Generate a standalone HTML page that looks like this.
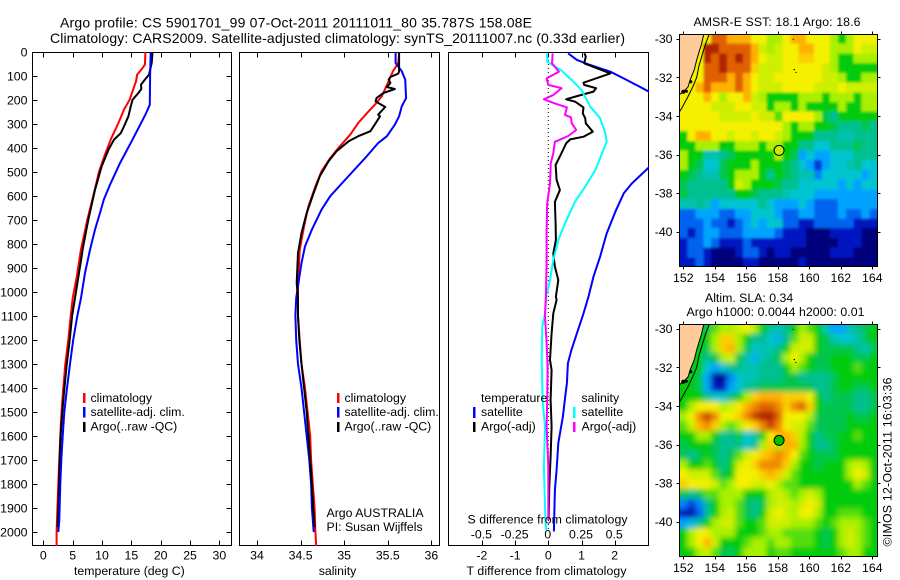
<!DOCTYPE html>
<html lang="en">
<head>
<meta charset="utf-8">
<title>Argo profile 5901701_99</title>
<style>
html,body{margin:0;padding:0;background:#fff;}
svg{display:block;}
text{font-family:"Liberation Sans",sans-serif;font-size:12.3px;fill:#000;}
</style>
</head>
<body>
<svg id="chart" xmlns="http://www.w3.org/2000/svg" width="900" height="580" viewBox="0 0 900 580">
  <defs>
    <clipPath id="clip-temp"><rect x="32" y="52" width="200" height="494"/></clipPath>
    <clipPath id="clip-sal"><rect x="239" y="52" width="201" height="494"/></clipPath>
    <clipPath id="clip-diff"><rect x="448" y="52" width="201" height="494"/></clipPath>
    <clipPath id="clip-sst"><rect x="679" y="34" width="199" height="233"/></clipPath>
    <clipPath id="clip-sla"><rect x="679" y="324" width="199" height="233"/></clipPath>
    <filter id="blur-sst" filterUnits="userSpaceOnUse" x="640" y="0" width="260" height="300"><feGaussianBlur stdDeviation="1.2"/></filter>
    <filter id="blur-sla" filterUnits="userSpaceOnUse" x="640" y="290" width="260" height="290"><feGaussianBlur stdDeviation="2.6"/></filter>
  </defs>
  <rect width="900" height="580" fill="#fff"/>

  <text x="60" y="27.5" textLength="472" lengthAdjust="spacing" style="font-size:14px">Argo profile: CS 5901701_99 07-Oct-2011 20111011_80 35.787S 158.08E</text>
  <text x="50" y="43" textLength="575" lengthAdjust="spacing" style="font-size:14px">Climatology: CARS2009. Satellite-adjusted climatology: synTS_20111007.nc (0.33d earlier)</text>

  <g id="layer-temp"></g>
  <g id="layer-sal"></g>
  <g id="layer-diff"></g>
  <g id="layer-sst"></g>
  <g id="layer-sla"></g>

  <!-- temperature legend -->
  <g>
    <rect x="83" y="393" width="2.5" height="10" fill="#f00"/>
    <text x="90.5" y="402">climatology</text>
    <rect x="83" y="407" width="2.5" height="10.5" fill="#00f"/>
    <text x="90.5" y="416">satellite-adj. clim.</text>
    <rect x="83" y="422" width="2.5" height="10" fill="#000"/>
    <text x="90.5" y="430.5">Argo(..raw -QC)</text>
  </g>
  <!-- salinity legend -->
  <g>
    <rect x="337" y="393" width="2.5" height="10" fill="#f00"/>
    <text x="344.5" y="402">climatology</text>
    <rect x="337" y="407" width="2.5" height="10.5" fill="#00f"/>
    <text x="344.5" y="416">satellite-adj. clim.</text>
    <rect x="337" y="422" width="2.5" height="10" fill="#000"/>
    <text x="344.5" y="430.5">Argo(..raw -QC)</text>
    <text x="326.5" y="517">Argo AUSTRALIA</text>
    <text x="326.5" y="531">PI: Susan Wijffels</text>
  </g>
  <!-- difference legend -->
  <g>
    <text x="481" y="402">temperature</text>
    <rect x="473" y="407" width="2.5" height="11" fill="#00f"/>
    <text x="481" y="416">satellite</text>
    <rect x="473" y="422" width="2.5" height="10" fill="#000"/>
    <text x="481" y="430.5">Argo(-adj)</text>
    <text x="581.5" y="402">salinity</text>
    <rect x="573" y="407" width="2.5" height="11" fill="#0ff"/>
    <text x="581.5" y="416">satellite</text>
    <rect x="573" y="422" width="2.5" height="10" fill="#f0f"/>
    <text x="581.5" y="430.5">Argo(-adj)</text>
  </g>

  <text x="74" y="575">temperature (deg C)</text>
  <text x="337.5" y="575" text-anchor="middle">salinity</text>
  <text x="466.5" y="575" textLength="160" lengthAdjust="spacing">T difference from climatology</text>
  <text x="467.5" y="523.5" textLength="160" lengthAdjust="spacing">S difference from climatology</text>

  <text x="693.5" y="26" textLength="167" lengthAdjust="spacing">AMSR-E SST: 18.1  Argo: 18.6</text>
  <text x="705" y="302">Altim. SLA: 0.34</text>
  <text x="686.5" y="316" textLength="178" lengthAdjust="spacing">Argo h1000: 0.0044 h2000: 0.01</text>
  <text transform="translate(891.5,546.5) rotate(-90)" textLength="169" lengthAdjust="spacing">©IMOS 12-Oct-2011 16:03:36</text>
</svg>

<script>
// ---- depth axis ----
const depthTicks = [0,100,200,300,400,500,600,700,800,900,1000,1100,1200,1300,1400,1500,1600,1700,1800,1900,2000];

// ---- temperature panel ----
const tempTicks = [0,5,10,15,20,25,30];
const tempClimDepths = [0,53,67,94,122,157,199,240,296,358,428,497,601,699,824,935,1025,1100,1200,1300,1400,1500,1600,1700,1800,1900,2000,2060];
const tempClimValues = [17.4,17.3,16.9,16.0,15.8,15.3,14.7,13.75,12.8,11.6,10.5,9.5,8.5,7.5,6.4,5.7,5.0,4.66,4.26,3.75,3.4,3.1,2.9,2.73,2.55,2.4,2.27,2.27];
const tempSatDepths = [0,100,220,261,289,372,463,553,615,671,740,824,921,1025,1100,1200,1300,1400,1500,1600,1700,1800,1900,1950,2000];
const tempSatValues = [18.3,18.2,18.15,17.4,16.8,15.05,13.07,11.36,10.3,9.66,8.8,7.95,7.1,6.42,5.8,5.1,4.55,4.03,3.58,3.3,3.07,2.9,2.78,2.73,2.55];
const tempArgoDepths = [0,46,94,115,136,154,171,199,226,268,310,338,365,407,476,574,699,810,921,1025,1100,1200,1300,1400,1500,1600,1700,1800,1900,1980];
const tempArgoValues = [18.6,18.47,18.0,17.3,16.65,16.7,16.2,15.2,14.9,14.5,13.75,13.2,12.05,11.1,9.95,8.8,7.67,6.8,6.08,5.4,4.9,4.5,4.0,3.6,3.24,2.95,2.78,2.67,2.55,2.44];

// ---- salinity panel ----
const salTicks = [34,34.5,35,35.5,36];
const salClimDepths = [0,46,80,129,185,212,247,296,344,393,442,497,560,643,726,824,976,1025,1100,1200,1300,1400,1500,1600,1700,1800,1900,2000,2060];
const salClimValues = [35.63,35.62,35.56,35.5,35.43,35.37,35.28,35.16,35.07,34.95,34.84,34.74,34.67,34.59,34.54,34.49,34.47,34.47,34.47,34.49,34.51,34.55,34.58,34.61,34.62,34.64,34.66,34.67,34.68];
const salSatDepths = [0,46,80,115,192,226,268,303,351,379,442,525,601,657,740,810,879,976,1025,1100,1200,1300,1400,1500,1600,1700,1800,1900,2000];
const salSatValues = [35.59,35.59,35.66,35.70,35.71,35.66,35.63,35.58,35.49,35.39,35.24,35.03,34.84,34.74,34.63,34.55,34.51,34.47,34.45,34.44,34.45,34.47,34.51,34.54,34.57,34.6,34.62,34.63,34.65];
const salArgoDepths = [0,80,90,104,115,129,146,154,171,192,206,229,261,268,303,330,351,372,414,456,518,587,671,754,838,963,1025,1100,1200,1300,1400,1500,1600,1700,1800,1900,1980];
const salArgoValues = [35.63,35.63,35.62,35.53,35.51,35.53,35.49,35.58,35.45,35.37,35.36,35.47,35.39,35.41,35.35,35.30,35.16,35.05,34.91,34.82,34.72,34.65,34.57,34.51,34.47,34.455,34.47,34.47,34.485,34.51,34.54,34.57,34.59,34.61,34.63,34.645,34.66];

// ---- difference panel ----
const tDiffTicks = [-2,-1,0,1,2];
const tDiffLabels = ['-2','-1','0','1','2'];
const sDiffTicks = [-0.5,-0.25,0,0.25,0.5];
const sDiffLabels = ['-0.5','-0.25','0','0.25','0.5'];
const zeroLineDepths = [0,2000];
const zeroLineValues = [0,0];
const tSatDepths = [6,33,54,82,117,165,220,300,400,481,547,589,665,756,853,936,1019,1033,1089,1172,1241,1297,1380,1436,1519,1630,1741,1825,1998];
const tSatValues = [0.6,0.86,1.26,1.87,2.37,3.03,4.1,3.7,3.2,3.03,2.52,2.27,2.02,1.76,1.56,1.36,1.21,1.18,1.06,0.86,0.7,0.59,0.56,0.51,0.44,0.3,0.25,0.2,0.17];
const tArgoDepths = [6,19,47,89,128,137,151,165,186,197,207,231,256,276,297,332,353,364,381,429,471,533,575,624,714,783,839,894,950,1019,1033,1089,1172,1283,1325,1450,1561,1686,1811,1950];
const tArgoValues = [1.09,1.13,1.08,1.87,1.06,1.08,1.44,1.36,0.81,0.535,0.81,1.06,1.04,1.11,1.13,1.34,1.06,0.66,0.535,0.37,0.22,0.25,0.35,0.2,0.22,0.23,0.15,0.2,0.3,0.23,0.25,0.15,0.1,0.05,0.1,0.07,0.1,0.07,0.03,0.01];
const sSatDepths = [6,40,78,117,158,228,276,339,374,429,492,561,624,714,783,867,950,1026,1089,1144,1283,1450,1561,1728,1894,1992];
const sSatValues = [-0.008,-0.008,0.1,0.177,0.25,0.316,0.39,0.43,0.44,0.40,0.354,0.278,0.2,0.126,0.076,0.038,0.013,-0.018,-0.025,-0.045,-0.05,-0.043,-0.025,-0.033,-0.025,-0.018];
const sArgoDepths = [6,47,82,110,137,151,179,197,214,231,262,272,297,325,350,374,422,464,547,631,742,881,1019,1103,1213,1311,1450,1561,1728,1950];
const sArgoValues = [0.033,0.028,0.08,-0.013,0,0.1,0.038,-0.033,0.05,0.14,0.126,0.17,0.177,0.21,0.15,0.05,0.038,0.018,0.013,-0.008,-0.013,-0.013,-0.018,-0.025,-0.013,-0.005,-0.008,-0.013,0,0];

// ---- maps ----
const lonTicks = [152,154,156,158,160,162,164];
const latTicks = [-30,-32,-34,-36,-38,-40];
const argoLon = 158.08;
const argoLat = -35.787;
const sstLevels = [
[8,8,8,8,10,10,9,9,9,8,8,7,7,8,9,9,8,8,8,7,6,7,8,8,8],
[8,8,8,11,11,10,10,10,10,9,7.5,7,7.5,8,8,9,9,8,8,7,7,7,8,7.5,7.5],
[8,8,8,11,10,11,10,11,10,9,8,7.5,7.5,8,8,8.5,8.5,8,8,7,6,6,7,7,7],
[8,8,8,10,10,11,10,10,10,8.5,7.5,7.5,7.5,8,8,8,8,8,7.5,7,6,6,6,6,6],
[8,8,8,10,10,10,9,10,9,8,7.5,7.5,8,8,8,8,8,8,7.5,7.5,7,6,6,7,7],
[8,8,9,10,9,9,9,10,9,8,7.5,7.5,7.5,8,8,8,8,7.5,7.5,7.5,8,7.5,7.5,7.5,7.5],
[8,8,8,9,8,7,8,8,9,7.5,7,6,6,6,6,7,7,7,6,7,7,7,6,7,7],
[8,8,8,8,7.5,7.5,7.5,8,8,7.5,7.5,6,7,7,6,7,6,6,6,6,7,6,6,7,7],
[8,8,8,8,8,7.5,7.5,7.5,7.5,8,7.5,7.5,6.5,8,8,8,8,7,5.5,5,6,6,6,6,6],
[8,8,8,8,8,8,8,8,8,8,8,8,8,7,6,7,7,6,6,5.5,5,5,5,5.5,5],
[6,8,9,9,8,8,7.5,8,8,7.5,8,8,7.5,7,6,6,6,5,5,5,4.5,4.5,5,5,5],
[6,6,7,7,7,6,6,7,7,7,6,7,7,6,6,5,5,4,4,5,5,5,5.5,5,5],
[7,6,6,4.5,4.5,5,5.5,6,6,6,6,6,7,6,5.5,3,4,3,3,4,4,4,5,5,5],
[7,6,5.5,4,4,5.5,6,6,6,7,6,6,6,5.5,5,4,3,1.5,3,4,4,4.5,5,4,4],
[6,5.5,5,4.5,4.5,5.5,6,7,7,7,6,5,6,5.5,5,4.5,4.5,2.5,4,4,4,4,4,3,4],
[5.5,5,5,5,5,5,6,7.5,7,6,6,6,5.5,5,5,4,4,4,4,4,3,4,3,4,4],
[5.5,5,5,5,5,5,5,6,6,5.5,5,5,5,4.5,4,4,4,3,3,3,3,3,3,3,3],
[4.5,4.5,5,4.5,3,4,4,4,4,4,5,4,3,3,3,4,3,2,2,2,3,3,3,3,3],
[2,2,3,3,3,2,2,3,3,4,4,4,3,2,2,3,3,2,2,2,3,2,2,3,2],
[2,2,2,3,2,2,1,2,3,4,3,4,4,2,2,1,1,2,2,2,2,2,1,1,1],
[2,1,2,3,3,2,2,2,3,3,3,3,2,1,1,1,0,0,0,1,1,1,1,0,0],
[1,2,2,3,2,1,1,1,2,1,1,1,1,1,1,1,0,0,0,0,1,1,1,0,0],
[1,2,2,1,0,0,0,1,2,2,1,0,1,1,0,0,0,0,0,1,1,1,0,0,0],
[1,1,2,1,0,0,0,0,1,1,0,0,0,0,0,1,0,0,0,0,0,0,0,0,0]
];
const slaLevels = [
[6,6,6,5.5,6.5,7,7,7.5,8,7,6,5,4.5,5,6,7,6.5,6,4.5,3,3,4.5,5,5.5,6],
[6,6,6,6,7,8.5,8.5,7,6,5,5,4,3.5,5,6.5,7.5,7.5,6,5.5,4.5,4,4,4.5,5.5,6],
[6,6,6,5.5,7,8.5,9,7,5.5,4,4.5,4.5,5,6,7.5,7.5,7.5,6,5.5,5.5,5.5,5.5,5,4.5,5.5],
[6,6,6,5,5.5,7,7.5,5.5,4.5,3.5,4.5,5,5.5,7,8,7,6,5.5,5.5,6,6,6,5.5,5.5,6],
[6,6,6,4,3,4,5,5,4.5,4.5,5,5,5,6,7,6.5,6,5.5,5.5,6,6,6,6.5,6,6],
[6,6,5.5,3,0.5,0.5,2.5,4,4.5,4.5,5,5,5,5.5,5.5,5,5,5,5,5.5,6,6,6,6,6],
[6,6,5.5,3,1,1,3,4,5,5,5.5,5.5,5.5,5.5,5.5,5.5,5.5,5,5,5.5,6,6,5.5,5.5,6],
[6,6,6,5,4,4,5,6,7,8.5,9,9,9,8.5,8.5,8.5,8,6,5,5.5,5.5,5.5,5,5,5.5],
[6,7,8,8,8,7,7.5,8,9,9.5,10,10,9.5,8.5,9.5,10,8.5,6,5.5,5.5,5.5,5.5,5,5,5.5],
[7,8,9.5,10.5,9.5,8,8,8.5,9.5,10.5,11.5,11.5,10,8,8,8,7,5.5,5.5,5.5,5.5,6,5.5,5.5,6],
[6.5,7.5,9,9.5,8.5,7,6.5,7,8,8.5,9.5,10.5,9.5,8,7.5,7.5,6.5,5.5,5.5,5.5,5.5,6,6,6,6],
[6,6,7,7,6,5,5,5.5,4,4.5,6,8,9,9,8.5,7,6,5,5.5,5.5,6,6,6.5,6,6],
[5.5,6,6,6,5.5,5,5,5,4,5,7,8.5,7,9,9,7,6,5,5,5.5,6,6,6,6,6],
[5.5,5,5.5,6,5.5,5,5.5,6.5,7.5,8,8.5,9,9.5,9,8,6.5,6,5.5,5.5,5.5,6,6,6,6,6],
[7,6,6,6.5,6,5,6,7.5,8,8.5,9.5,9.5,9.5,8.5,7,6,6,5.5,6,6,6,7,7.5,7,6],
[8,7.5,7.5,7.5,6.5,5.5,6,8,8,8,8.5,9,8.5,7.5,6.5,6,6,6,6,6,6,7,8,7.5,6],
[8.5,8,8,8,7.5,6.5,7,8,8,7.5,7.5,8,7,6.5,6.5,6,6,6,6,6,6,6,7,6.5,6],
[5.5,5,5.5,6.5,6.5,7,7,7,6,6,6,7,7.5,7,6.5,7,7.5,7,6,6,6,6,6,6,6],
[2.5,1.5,2.5,5,6,7,7,6.5,5.5,5,5.5,7,7.5,7.5,7,7.5,8,7.5,6,6,6,6,6,6,6],
[1,0.5,2,5,6,7,7.5,6.5,5.5,5,6,7.5,8,7.5,7,8,8,7,6,6,6.5,6.5,6.5,6,6],
[3,3.5,5,6,7,7.5,7.5,6.5,6,6,6.5,7.5,7.5,7.5,7,7,7,6.5,6,6.5,7,7,7,6.5,6],
[6,7,8,8,7,7,7,6,6,6,6.5,7,7,6.5,6.5,6.5,6.5,6,5.5,6,7,7.5,7,6.5,6],
[6,7,8,9,7.5,6,6,6,6.5,7,7,6.5,7,7,6.5,6.5,6.5,6,5.5,6,7,7.5,7,6.5,6],
[6,6,7,7.5,6.5,5.5,5.5,6,7,7,7,6,6.5,6.5,6,6,6,6,6,6,6.5,7,7,6,6]
];
const landLons = [151.75,153.3,153.15,153.0,152.85,152.7,152.45,152.3,152.0,151.75,151.75];
const landLats = [-29.75,-29.75,-30.3,-30.7,-31.1,-31.6,-32.1,-32.5,-32.75,-32.9,-29.75];
const shelfLons = [153.65,153.45,153.25,153.0,152.85,152.6,152.3,151.9,151.75];
const shelfLats = [-29.75,-30.2,-30.7,-31.4,-32.0,-32.5,-33.0,-33.6,-33.8];
const islandLons = [158.98,159.05,159.15,152.0,152.2,152.47];
const islandLats = [-30.03,-31.6,-31.75,-32.75,-32.72,-32.23];
const islandSizes = [0.6,0.7,0.6,2,1.5,1.6];

// ---- scales ----
const SVGNS = 'http://www.w3.org/2000/svg';
function depthY(d){ return 52 + d * 0.24; }
function tempX(v){ return 43.3 + v * 5.87; }
function salX(v){ return 257 + (v - 34) * 87.2; }
function tDiffX(v){ return 548.3 + v * 33.2; }
function sDiffX(v){ return 548.3 + v * 132.8; }
function lonX(lon){ return 683.3 + (lon - 152) * 15.75; }
function latY(top, lat){ return top + 4.7 + (lat + 30) * -19.3; }

function el(parent, tag, attrs){
  const n = document.createElementNS(SVGNS, tag);
  for (const k in attrs) n.setAttribute(k, attrs[k]);
  parent.appendChild(n);
  return n;
}
function drawProfile(parent, name, depths, values, xFn, color, clip, width){
  const pts = depths.map((d, i) => xFn(values[i]).toFixed(1) + ',' + depthY(d).toFixed(1)).join(' ');
  const line = el(parent, 'polyline', {points: pts, fill: 'none', stroke: color, 'stroke-width': width || 2, 'clip-path': 'url(#' + clip + ')', 'stroke-linejoin': 'round'});
  
  
  return line;
}
function drawTickLabel(parent, name, x, y, label, anchor){
  const t = el(parent, 'text', {x: x, y: y, 'text-anchor': anchor});
  t.textContent = label;
  
  
  return t;
}
function drawTick(parent, name, x1, y1, x2, y2){
  const l = el(parent, 'line', {x1: x1, y1: y1, x2: x2, y2: y2, stroke: '#000', 'stroke-width': 1, 'shape-rendering': 'crispEdges'});
  
  
  return l;
}
function drawFrame(parent, name, x, y, w, h){
  const r = el(parent, 'rect', {x: x, y: y, width: w, height: h, fill: 'none', stroke: '#000', 'stroke-width': 1, 'shape-rendering': 'crispEdges'});
  
  
  return r;
}
function drawXTicks(parent, ticks, xFn){
  ticks.forEach(v => {
    const x = Math.round(xFn(v)) + 0.5;
    drawTick(parent, 'x-tick-top', x, 52.5, x, 57.5);
    drawTick(parent, 'x-tick-bottom', x, 545.5, x, 540.5);
  });
}

// ---- temperature panel ----
const gTemp = document.getElementById('layer-temp');
drawFrame(gTemp, 'temperature-axes-frame', 32.5, 52.5, 199, 493);
drawXTicks(gTemp, tempTicks, tempX);
tempTicks.forEach(v => drawTickLabel(gTemp, 'temperature-tick-label', tempX(v), 559.5, String(v), 'middle'));
depthTicks.forEach(d => {
  const y = Math.round(depthY(d)) + 0.5;
  drawTick(gTemp, 'depth-tick-left', 32.5, y, 37.5, y);
  drawTick(gTemp, 'depth-tick-right', 231.5, y, 226.5, y);
  drawTickLabel(gTemp, 'depth-tick-label', 27.5, depthY(d) + 4.5, String(d), 'end');
});
drawProfile(gTemp, 'temperature-climatology-line', tempClimDepths, tempClimValues, tempX, '#f00', 'clip-temp', 2);
drawProfile(gTemp, 'temperature-argo-line', tempArgoDepths, tempArgoValues, tempX, '#000', 'clip-temp', 2);
drawProfile(gTemp, 'temperature-satellite-line', tempSatDepths, tempSatValues, tempX, '#00f', 'clip-temp', 2);

// ---- salinity panel ----
const gSal = document.getElementById('layer-sal');
drawFrame(gSal, 'salinity-axes-frame', 239.5, 52.5, 200, 493);
drawXTicks(gSal, salTicks, salX);
salTicks.forEach(v => drawTickLabel(gSal, 'salinity-tick-label', salX(v), 559.5, String(v), 'middle'));
drawProfile(gSal, 'salinity-climatology-line', salClimDepths, salClimValues, salX, '#f00', 'clip-sal', 2);
drawProfile(gSal, 'salinity-satellite-line', salSatDepths, salSatValues, salX, '#00f', 'clip-sal', 2);
drawProfile(gSal, 'salinity-argo-line', salArgoDepths, salArgoValues, salX, '#000', 'clip-sal', 2);

// ---- difference panel ----
const gDiff = document.getElementById('layer-diff');
drawFrame(gDiff, 'difference-axes-frame', 448.5, 52.5, 200, 493);
drawXTicks(gDiff, tDiffTicks, tDiffX);
tDiffTicks.forEach((v, i) => drawTickLabel(gDiff, 't-difference-tick-label', tDiffX(v), 559.5, tDiffLabels[i], 'middle'));
sDiffTicks.forEach((v, i) => drawTickLabel(gDiff, 's-difference-tick-label', sDiffX(v) - 0.5, 538.5, sDiffLabels[i], 'middle'));
const zeroLine = drawProfile(gDiff, 'zero-difference-dotted-line', zeroLineDepths, zeroLineValues, tDiffX, '#000', 'clip-diff', 1);
zeroLine.setAttribute('stroke-dasharray', '1 3');
drawProfile(gDiff, 'temperature-satellite-difference-line', tSatDepths, tSatValues, tDiffX, '#00f', 'clip-diff', 2);
drawProfile(gDiff, 'temperature-argo-difference-line', tArgoDepths, tArgoValues, tDiffX, '#000', 'clip-diff', 2);
drawProfile(gDiff, 'salinity-satellite-difference-line', sSatDepths, sSatValues, sDiffX, '#0ff', 'clip-diff', 2);
drawProfile(gDiff, 'salinity-argo-difference-line', sArgoDepths, sArgoValues, sDiffX, '#f0f', 'clip-diff', 2);

// ---- maps ----
const levelStops = ['#00007c','#0018c0','#0064f0','#00a4ff','#00c4d0','#00c090','#00cc10','#a8f000','#f4f000','#ffb000','#e06000','#b02000'];
function levelColor(v){
  const c = Math.max(0, Math.min(levelStops.length - 1, v));
  const i = Math.floor(c);
  const j = Math.min(levelStops.length - 1, i + 1);
  const f = c - i;
  const mix = s => [1,3,5].map(p => parseInt(s.substr(p, 2), 16));
  const a = mix(levelStops[i]);
  const b = mix(levelStops[j]);
  return 'rgb(' + a.map((x, k) => Math.round(x + (b[k] - x) * f)).join(',') + ')';
}
function drawMap(parent, prefix, levels, top, clip, blur, markerColor){
  const cellW = 198 / 25;
  const cellH = 233 / 24;
  const pad = 14;
  const clipGroup = el(parent, 'g', {'clip-path': 'url(#' + clip + ')'});
  
  
  const cellGroup = el(clipGroup, 'g', {filter: 'url(#' + blur + ')'});
  
  
  levels.forEach((row, r) => {
    row.forEach((v, c) => {
      const x0 = 679.5 + c * cellW - (c === 0 ? pad : 0);
      const y0 = top + r * cellH - (r === 0 ? pad : 0);
      const x1 = 679.5 + (c + 1) * cellW + (c === row.length - 1 ? pad : 0.3);
      const y1 = top + (r + 1) * cellH + (r === levels.length - 1 ? pad : 0.3);
      const cell = el(cellGroup, 'rect', {
        x: x0.toFixed(2),
        y: y0.toFixed(2),
        width: (x1 - x0).toFixed(2),
        height: (y1 - y0).toFixed(2),
        fill: levelColor(v),
        'shape-rendering': 'crispEdges'
      });
      
      
    });
  });
  const landPts = landLons.map((lon, i) => lonX(lon).toFixed(1) + ',' + latY(top, landLats[i]).toFixed(1)).join(' ');
  const land = el(clipGroup, 'polygon', {points: landPts, fill: '#ffcc99', stroke: '#000', 'stroke-width': 1});
  
  
  const shelfPts = shelfLons.map((lon, i) => lonX(lon).toFixed(1) + ',' + latY(top, shelfLats[i]).toFixed(1)).join(' ');
  const shelf = el(clipGroup, 'polyline', {points: shelfPts, fill: 'none', stroke: '#000', 'stroke-width': 1});
  
  
  islandLons.forEach((lon, i) => {
    const isl = el(clipGroup, 'circle', {cx: lonX(lon).toFixed(1), cy: latY(top, islandLats[i]).toFixed(1), r: islandSizes[i], fill: '#000'});
    
    
  });
  drawFrame(parent, prefix + '-frame', 679.5, top + 0.5, 198, 232);
  lonTicks.forEach(lon => {
    const x = Math.round(lonX(lon)) + 0.5;
    drawTick(parent, prefix + '-lon-tick-top', x, top + 0.5, x, top - 2.5);
    drawTick(parent, prefix + '-lon-tick-bottom', x, top + 232.5, x, top + 235.5);
    drawTickLabel(parent, prefix + '-lon-tick-label', lonX(lon), top + 248, String(lon), 'middle');
  });
  latTicks.forEach(lat => {
    const y = Math.round(latY(top, lat)) + 0.5;
    drawTick(parent, prefix + '-lat-tick-left', 679.5, y, 676.5, y);
    drawTick(parent, prefix + '-lat-tick-right', 877.5, y, 880.5, y);
    drawTickLabel(parent, prefix + '-lat-tick-label', 672.5, latY(top, lat) + 4.5, String(lat), 'end');
  });
  const marker = el(parent, 'circle', {cx: lonX(argoLon).toFixed(1), cy: latY(top, argoLat).toFixed(1), r: 5, fill: markerColor, stroke: '#000', 'stroke-width': 1});
  
  
}
drawMap(document.getElementById('layer-sst'), 'sst', sstLevels, 34, 'clip-sst', 'blur-sst', '#c0f000');
drawMap(document.getElementById('layer-sla'), 'sla', slaLevels, 324, 'clip-sla', 'blur-sla', '#00c000');
</script>
</body>
</html>
